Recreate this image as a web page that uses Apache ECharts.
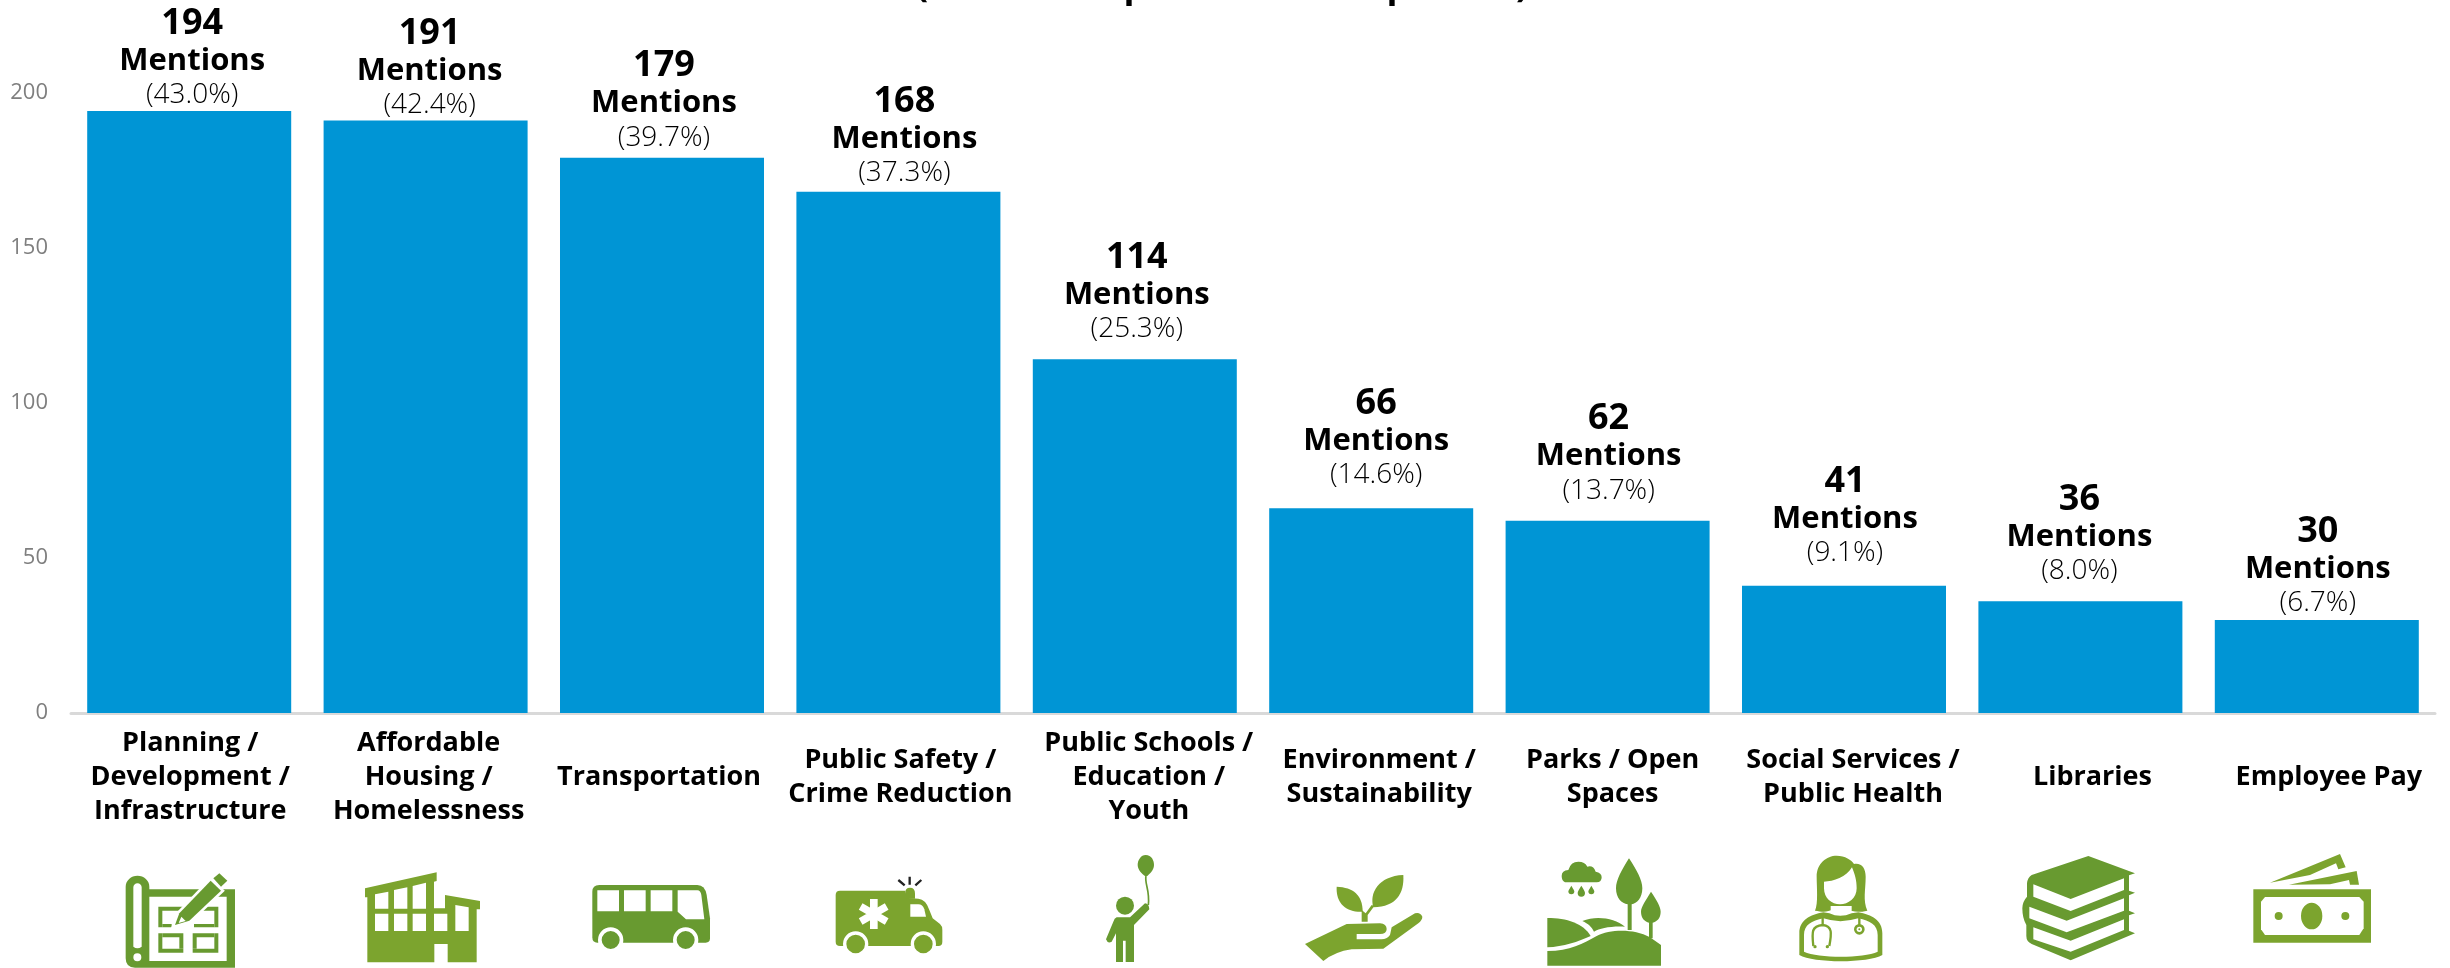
<!DOCTYPE html>
<html>
<head>
<meta charset="utf-8">
<style>html,body{margin:0;padding:0;background:#fff}#chart{width:2450px;height:968px}</style>
<script src="https://cdn.jsdelivr.net/npm/echarts@6/dist/echarts.min.js"></script>
</head>
<body>
<div id="chart"></div>
<script>
// Topics mentioned by residents, ordered by number of mentions.
const categories = [
  'Planning /\nDevelopment /\nInfrastructure',
  'Affordable\nHousing /\nHomelessness',
  'Transportation',
  'Public Safety /\nCrime Reduction',
  'Public Schools /\nEducation /\nYouth',
  'Environment /\nSustainability',
  'Parks / Open\nSpaces',
  'Social Services /\nPublic Health',
  'Libraries',
  'Employee Pay'
];
const mentions = [194, 191, 179, 168, 114, 66, 62, 41, 36, 30];
const shares = ['43.0', '42.4', '39.7', '37.3', '25.3', '14.6', '13.7', '9.1', '8.0', '6.7'];
const yTicks = { min: 0, max: 200, step: 50 };

// Hand placement of the labels, in pixels.
const valueLabelDx = [3, 4, 2, 6, 2, 5, 1, 1, -1, 1];
const valueLabelLift = [0, -1, 4, 3, 14, 17, 14, 17, 14, 1];
const categoryLabelDx = [1, 3, -3, 2, 14, 8, 5, 9, 12, 12];

const DARK = '#689a30', LIGHT = '#7ca42e', WHITE = '#ffffff';
const disc = (x, y, r) => `M${x - r} ${y}a${r} ${r} 0 1 0 ${2 * r} 0a${r} ${r} 0 1 0 ${-2 * r} 0Z`;
const box = (x, y, w, h) => `M${x} ${y}h${w}v${h}h${-w}Z`;

// Topic pictograms: layers painted in order, in thirds of a pixel.
// origin is the layer space's left edge measured from the bar centre.
const icons = [
  { origin: -69.2, layers: [
    { fill: DARK, d: 'M17 110A35 32 0 0 1 88 110L88 118L345 118L345 353L45 353Q17 353 17 325Z' },
    { fill: WHITE, d: 'M40 112A12.500 12.500 0 0 1 65 112L65 290Q52 300 40 290Z' + disc(52, 322, 12) },
    { fill: WHITE, d: box(88, 140, 232, 193) },
    { fill: DARK, d: box(115, 170, 180, 138) },
    { fill: WHITE, d: box(127, 182, 156, 114) },
    { fill: WHITE, d: box(113, 232, 16, 18) + box(190, 294, 28, 16) + box(281, 232, 16, 18) },
    { fill: DARK, d: box(127, 222, 28, 10) + box(222, 222, 61, 10) + box(127, 250, 63, 12) + box(218, 250, 65, 12) + box(178, 250, 12, 46) + box(218, 250, 12, 46) },
    { fill: DARK, stroke: WHITE, lw: 16, d: 'M165 225L178 190L272 92L303 122L208 212Z' },
    { fill: DARK, d: 'M165 225L178 190L272 92L303 122L208 212Z' },
    { fill: WHITE, d: 'M176 219L184 200L197 213Z' },
    { fill: DARK, d: 'M280 85L298 70L322 92L303 110Z' }
  ] },
  { origin: -305.6, layers: [
    { fill: LIGHT, d: 'M735 115L950 67L950 93L942 95L942 175L975 175L975 135L1080 153L1080 178L1070 178L1070 337L983 337L983 282L943 282L943 337L742 337L742 142L735 142Z' },
    { fill: WHITE, d: 'M765 133L805 125L805 176L765 176Z M822 120L862 112L862 176L822 176Z M878 108L918 98L918 176L878 176Z M1006 165L1046 172L1046 243L1006 243Z' + box(765, 191, 40, 52) + box(822, 191, 40, 52) + box(878, 191, 40, 52) + box(942, 191, 40, 52) }
  ] },
  { origin: -72, layers: [
    { fill: DARK, d: 'M7 125Q7 105 28 105L322 105Q345 105 350 135L360 205L360 265Q360 278 347 278L22 278Q7 278 7 262Z' },
    { fill: WHITE, d: disc(62, 270, 38) + disc(287, 270, 38) },
    { fill: DARK, d: disc(62, 270, 27) + disc(287, 270, 27) },
    { fill: WHITE, d: box(22, 121, 65, 63) + box(102, 121, 65, 63) + box(182, 121, 65, 63) + 'M263 121L322 121Q332 121 334 135L343 208L288 208L263 185Z' }
  ] },
  { origin: -308.4, layers: [
    { fill: LIGHT, d: 'M737 135Q737 122 750 122L945 122L945 143L985 146Q1008 148 1018 180L1028 205L1050 222Q1057 228 1057 240L1057 275Q1057 288 1045 288L750 288Q737 288 737 275Z' },
    { fill: LIGHT, d: 'M945 130Q945 113 960 113Q975 113 975 130L975 146L945 146Z' },
    { fill: WHITE, d: disc(797, 282, 38) + disc(1000, 282, 38) },
    { fill: LIGHT, d: disc(797, 282, 28) + disc(1000, 282, 28) },
    { fill: WHITE, d: 'M961 163L985 163Q998 163 1003 178L1008 200L961 200Z' },
    { fill: WHITE, d: box(840, 147, 23, 90) },
    { fill: WHITE, d: 'M884.500 224L895.500 205L817.500 160L806.500 179Z M806.500 205L817.500 224L895.500 179L884.500 160Z' },
    { stroke: '#222222', lw: 7, d: 'M925 90L944 106M959 80L959 104M994 90L976 106' }
  ] },
  { origin: -39.8, layers: [
    { fill: DARK, d: 'M152 15C170 15 177 32 177 45C177 62 162 73 157 78L150 78C142 72 128 60 128 45C128 30 138 15 152 15Z' },
    { stroke: DARK, lw: 5, d: 'M153 78C148 100 165 120 160 165' },
    { fill: DARK, d: disc(90, 167, 27) },
    { fill: DARK, d: 'M65 202L105 202L150 160Q162 160 163 178L117 225L117 336L92 336L92 272L84 272L84 336L63 336L63 250L50 275Q38 282 33 268L55 215Q58 205 65 202Z' }
  ] },
  { origin: -276.2, layers: [
    { fill: LIGHT, d: 'M725 110C775 112 803 135 803 185C760 188 722 165 725 110Z' },
    { fill: LIGHT, d: 'M925 75C928 130 905 170 835 172C822 130 850 78 925 75Z' },
    { fill: LIGHT, d: 'M800 180L800 215L818 215L818 195L838 168L830 165L812 190Z' },
    { fill: LIGHT, d: 'M630 282L755 222L855 220Q875 222 875 237Q875 252 855 252L785 252L785 268L860 268Q875 268 885 255L890 232L960 190Q975 185 982 200Q982 210 970 220L865 296L770 298Q720 305 685 333Z' }
  ] },
  { origin: -67.6, layers: [
    { fill: DARK, d: 'M75 97Q65 92 65 78Q65 62 85 60Q92 35 115 35Q135 35 142 50Q160 45 167 65Q185 68 185 82Q185 97 170 97Z' },
    { fill: DARK, d: 'M94 107C100 118 103 121 103 124A9 9 0 0 1 85 124C85 121 88 118 94 107Z M124 107C131 119 135 124 135 129A11 11 0 0 1 113 129C113 124 117 119 124 107Z M154 107C160 118 163 121 163 124A9 9 0 0 1 145 124C145 121 148 118 154 107Z' },
    { fill: DARK, d: 'M267 25C290 60 307 90 307 115C307 145 290 160 275 163L275 240L263 240L263 163C245 160 228 145 228 115C228 90 245 60 267 25Z' },
    { fill: DARK, d: 'M333 125C350 150 362 170 362 185C362 205 350 215 338 218L338 265L327 265L327 218C315 215 303 205 303 185C303 170 318 150 333 125Z' },
    { fill: DARK, d: 'M22 204C80 204 130 220 152 258C115 275 70 290 22 292Z' },
    { fill: DARK, d: 'M127 213C170 195 225 205 255 230C210 228 180 235 162 245C155 230 145 222 127 213Z' },
    { fill: DARK, d: 'M22 303C90 303 130 280 170 258C210 238 280 235 330 262L363 285L363 347L22 347Z' }
  ] },
  { origin: -304, layers: [
    { fill: LIGHT, d: 'M778 250C778 210 810 195 850 187L868 190Q900 205 935 190L955 187C995 195 1027 210 1027 250L1027 315C985 340 820 340 778 315Z' },
    { fill: WHITE, d: 'M792 255C792 225 815 212 850 205Q900 222 955 205C990 212 1013 225 1013 255L1013 305C970 325 835 325 792 305Z' },
    { fill: LIGHT, d: 'M825 182C835 160 830 110 830 80C830 40 860 17 890 17C915 17 935 30 942 42C965 38 977 55 977 80C977 120 968 150 982 182C955 188 935 186 925 178L880 178C860 188 845 185 825 182Z' },
    { fill: WHITE, d: 'M852 95C880 95 920 80 936 52C945 75 950 90 950 115C950 145 925 163 900 163C875 163 852 145 852 115Z' },
    { fill: WHITE, d: 'M872 168L935 168L935 182Q900 196 872 182Z' },
    { stroke: LIGHT, lw: 7, d: 'M848 198L848 225C815 228 815 245 820 288M848 225C878 228 875 250 868 288M958 198L958 225' },
    { fill: LIGHT, d: disc(958, 238, 16) + disc(825, 290, 5) + disc(862, 290, 5) },
    { fill: WHITE, d: disc(958, 238, 8) },
    { fill: LIGHT, d: disc(958, 238, 3) }
  ] },
  { origin: -65.4, layers: [
    { fill: DARK, d: 'M50 75L220 18L360 70L342 76L342 122L360 128L342 136L342 182L360 190L342 196L342 242L360 250L167 331L50 282Q34 275 34 258L34 225Q22 205 22 175Q22 155 36 140L36 100Q38 82 50 75Z' },
    { fill: WHITE, d: 'M55 103L167 147L327 85L327 120L167 183L55 140Z M43 170L155 212L327 145L327 182L155 247L43 205Z M55 232L167 272L327 208L327 240L167 305L55 268Z' }
  ] },
  { origin: -301.8, layers: [
    { fill: LIGHT, d: box(715, 118, 353, 160) },
    { fill: WHITE, d: 'M750 141L1033 141L1046 155L1046 235L1033 255L750 255L738 238L738 155Z' },
    { fill: LIGHT, d: 'M858 198a32 40 0 1 0 64 0a32 40 0 1 0 -64 0Z' + disc(791, 198, 12) + disc(991, 198, 12) },
    { fill: LIGHT, d: 'M765 98L975 12L992 52L970 58L963 40L885 75Z M822 104L1025 63L1032 104L1005 104L1002 90L945 103Z' }
  ] }
];

const FONT = '"Open Sans", sans-serif';

// One rich style per category, so each label can sit off its bar centre.
const categoryRich = {};
categoryLabelDx.forEach((dx, i) => {
  categoryRich['c' + i] = {
    fontFamily: FONT, fontWeight: 700, fontSize: 27, lineHeight: 34, color: '#000',
    padding: dx >= 0 ? [0, 0, 0, 2 * dx] : [0, -2 * dx, 0, 0]
  };
});

const chart = echarts.init(document.getElementById('chart'), null, { renderer: 'canvas' });

chart.setOption({
  animation: false,
  backgroundColor: '#fff',
  grid: { left: 71, right: 15, top: 92.5, bottom: 255, containLabel: false },
  // Only the bottom edge of the heading falls inside the page.
  graphic: [['(', 922], ['p', 1135], ['p', 1398], [')', 1522]].map(([text, x]) => ({
    type: 'text', x, y: -13, silent: true,
    style: { text, fill: '#000', font: '700 36px ' + FONT, textAlign: 'center', textVerticalAlign: 'middle' }
  })),
  xAxis: {
    type: 'category',
    data: categories,
    axisTick: { show: false },
    axisLine: { show: true, lineStyle: { color: '#d9d9d9', width: 3 } },
    axisLabel: {
      interval: 0, margin: 64, verticalAlign: 'middle', hideOverlap: false,
      formatter: (value, index) => value.split('\n').map(line => `{c${index}|${line}}`).join('\n'),
      rich: categoryRich
    }
  },
  yAxis: {
    type: 'value',
    min: yTicks.min, max: yTicks.max, interval: yTicks.step,
    splitLine: { show: false },
    axisLine: { show: false },
    axisTick: { show: false },
    axisLabel: { color: '#7f7f7f', fontFamily: FONT, fontSize: 22, margin: 23 }
  },
  series: [
    {
      type: 'bar',
      barWidth: 204,
      barGap: '0%',
      itemStyle: { color: '#0095d5' },
      data: mentions.map((value, i) => ({
        value,
        label: {
          show: true,
          position: 'top',
          distance: 1,
          offset: [valueLabelDx[i], -valueLabelLift[i]],
          formatter: () => `{n|${value}}\n{m|Mentions}\n{p|(${shares[i]}%)}`,
          rich: {
            n: { fontFamily: FONT, fontWeight: 700, fontSize: 36, lineHeight: 37, color: '#000' },
            m: { fontFamily: FONT, fontWeight: 700, fontSize: 31, lineHeight: 38, color: '#000' },
            p: { fontFamily: FONT, fontWeight: 300, fontSize: 28, lineHeight: 30, color: '#000' }
          }
        }
      }))
    },
    {
      // Pictograms hang at a fixed drop below each bar's foot.
      type: 'custom',
      silent: true,
      clip: false,
      data: icons.map((_, i) => [i, 0]),
      encode: { x: 0, y: 1 },
      renderItem: (params, api) => {
        const icon = icons[params.dataIndex];
        const foot = api.coord([api.value(0), 0]);
        return {
          type: 'group',
          x: foot[0] + icon.origin,
          y: foot[1] + 137,
          scaleX: 1 / 3,
          scaleY: 1 / 3,
          children: icon.layers.map(layer => ({
            type: 'path',
            shape: { pathData: layer.d },
            style: {
              fill: layer.fill || 'none',
              stroke: layer.stroke || 'none',
              lineWidth: layer.lw || 0
            }
          }))
        };
      }
    }
  ]
});
</script>
</body>
</html>
